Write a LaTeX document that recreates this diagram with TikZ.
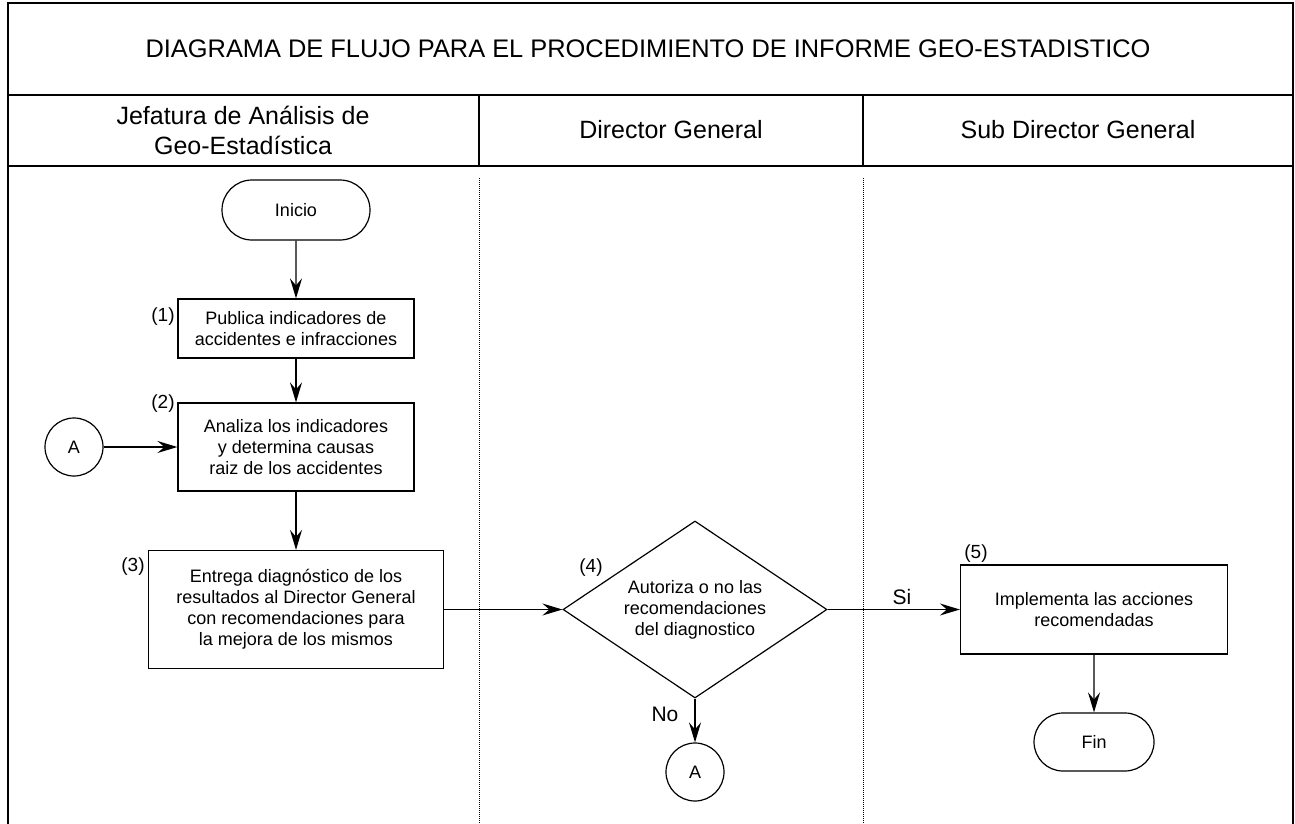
\documentclass[tikz,border=0pt]{standalone}
\usepackage{fontspec}
\setmainfont{Liberation Sans}
\usetikzlibrary{arrows.meta,shapes.geometric,shapes.misc}
\begin{document}
\begin{tikzpicture}[x=1pt,y=-1pt,
  frameline/.style={line width=2pt},
  nodefont/.style={font=\fontsize{18}{21}\selectfont},
  proc/.style={draw, line width=1.2pt, rectangle, align=center, inner sep=0pt, nodefont},
  term/.style={draw, line width=1.2pt, rounded rectangle, inner sep=0pt, nodefont},
  conn/.style={draw, line width=1.2pt, circle, minimum size=58pt, inner sep=0pt, nodefont},
  dec/.style={draw, line width=1.2pt, diamond, aspect=1.5, inner sep=0pt, align=center, nodefont},
  lbl/.style={inner sep=0pt, font=\fontsize{19}{22}\selectfont},
  biglbl/.style={inner sep=0pt, font=\fontsize{21}{24}\selectfont},
  head/.style={inner sep=0pt, align=center, font=\fontsize{25}{30}\selectfont},
  arr/.style={line width=1.2pt, -{Stealth[length=20pt,width=12pt,inset=7pt]}},
  lane/.style={line width=1pt, densely dotted}
]
\useasboundingbox (0,0) rectangle (1295,824);

% frame
\draw[frameline] (7.5,824) -- (7.5,3) -- (1293,3) -- (1293,824);
\draw[frameline] (7.5,95) -- (1293,95);
\draw[frameline] (7.5,166) -- (1293,166);
\draw[frameline] (479,95) -- (479,166);
\draw[frameline] (863,95) -- (863,166);
\draw[lane] (479,178) -- (479,824);
\draw[lane] (863,178) -- (863,824);

% titles
\node[head, font=\fontsize{25.4}{30}\selectfont] (title) at (648,49) {DIAGRAMA DE FLUJO PARA EL PROCEDIMIENTO DE INFORME GEO-ESTADISTICO};
\node[head] (h1) at (243,130) {Jefatura de Análisis de\\Geo-Estadística};
\node[head] (h2) at (671,130) {Director General};
\node[head] (h3) at (1078,130) {Sub Director General};

% nodes
\node[term, minimum width=148pt, minimum height=60pt] (inicio) at (296,210) {Inicio};
\node[proc, minimum width=236pt, minimum height=59pt] (p1) at (296,328.5) {Publica indicadores de\\accidentes e infracciones};
\node[proc, minimum width=236pt, minimum height=88pt] (p2) at (296,447) {Analiza los indicadores\\y determina causas\\raiz de los accidentes};
\node[conn] (a1) at (74,447) {A};
\node[proc, minimum width=295pt, minimum height=118pt] (p3) at (296,609.5) {Entrega diagnóstico de los\\resultados al Director General\\con recomendaciones para\\la mejora de los mismos};
\node[dec, minimum width=264pt, minimum height=177pt] (d4) at (695,609.5) {Autoriza o no las\\recomendaciones\\del diagnostico};
\node[conn] (a2) at (695,772) {A};
\node[proc, minimum width=267pt, minimum height=89pt] (p5) at (1094,609.5) {Implementa las acciones\\recomendadas};
\node[term, minimum width=120pt, minimum height=58pt] (fin) at (1094,742) {Fin};

% step labels
\node[lbl] (l1) at (163,317) {(1)};
\node[lbl] (l2) at (163,404) {(2)};
\node[lbl] (l3) at (133,567) {(3)};
\node[lbl] (l4) at (591,568) {(4)};
\node[lbl] (l5) at (976,554) {(5)};
\node[biglbl] (lsi) at (902,597) {Si};
\node[biglbl] (lno) at (665,714) {No};

% connectors
\draw[arr] (inicio) -- (p1);
\draw[arr] (p1) -- (p2);
\draw[arr] (a1) -- (p2);
\draw[arr] (p2) -- (p3);
\draw[arr] (p3) -- (d4);
\draw[arr] (d4) -- (p5);
\draw[arr] (d4) -- (a2);
\draw[arr] (p5) -- (fin);
\end{tikzpicture}
\end{document}
